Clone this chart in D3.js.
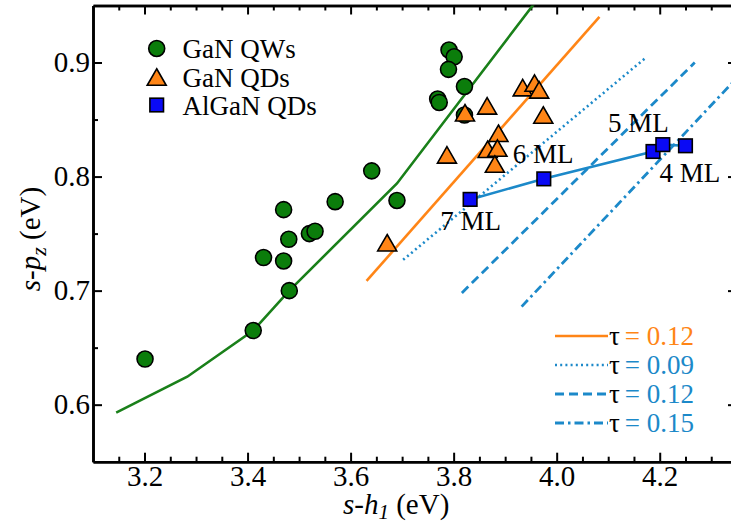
<!DOCTYPE html>
<html>
<head>
<meta charset="utf-8">
<script src="https://cdn.jsdelivr.net/npm/d3@7"></script>
<style>
  html, body { margin: 0; padding: 0; background: #fff; }
  svg { display: block; font-family: "Liberation Serif", "Times New Roman", serif; }
</style>
</head>
<body>
<svg id="chart" width="731" height="526"></svg>
<script>
// ---- data ----
const qwX = [3.201, 3.411, 3.431, 3.470, 3.470, 3.480, 3.481, 3.520, 3.531, 3.570, 3.641, 3.690, 3.769, 3.772, 3.791, 3.801, 3.790, 3.821, 3.821];
const qwY = [0.640, 0.665, 0.729, 0.726, 0.771, 0.745, 0.700, 0.750, 0.752, 0.778, 0.805, 0.779, 0.868, 0.865, 0.911, 0.905, 0.894, 0.879, 0.854];

const qdX = [3.671, 3.787, 3.822, 3.865, 3.887, 3.866, 3.885, 3.880, 3.934, 3.957, 3.966, 3.974];
const qdY = [0.742, 0.819, 0.856, 0.862, 0.838, 0.824, 0.825, 0.811, 0.878, 0.882, 0.876, 0.854];

const alX = [3.832, 3.975, 4.187, 4.206, 4.250];
const alY = [0.780, 0.798, 0.822, 0.828, 0.827];

const mlLabels = ["7 ML", "6 ML", "5 ML", "4 ML"];

const greenLineX = [3.145, 3.283, 3.411, 3.481, 3.690, 3.962];
const greenLineY = [0.593, 0.6245, 0.665, 0.700, 0.794, 0.955];

const tauOrangeX = [3.631, 4.083];
const tauOrangeY = [0.7085, 0.940];
const tau09X = [3.702, 4.175];
const tau09Y = [0.727, 0.905];
const tau12X = [3.816, 4.268];
const tau12Y = [0.698, 0.900];
const tau15X = [3.932, 4.378];
const tau15Y = [0.686, 0.900];

const tauLegend = ["0.12", "0.09", "0.12", "0.15"];
const legendNames = ["GaN QWs", "GaN QDs", "AlGaN QDs"];

const xMajor = [3.2, 3.4, 3.6, 3.8, 4.0, 4.2];
const xMinor = [3.15, 3.25, 3.3, 3.35, 3.45, 3.5, 3.55, 3.65, 3.7, 3.75, 3.85, 3.9, 3.95, 4.05, 4.1, 4.15, 4.25, 4.3];
const yMajor = [0.6, 0.7, 0.8, 0.9];
const yMinor = [0.65, 0.75, 0.85];

// ---- styles ----
const GREEN = "#0b7d0b", GREEN_LINE = "#1a801a", ORANGE = "#ff8516", BLUE_SQ = "#0a0af5", BLUE_LINE = "#1c89c9";

const svg = d3.select("#chart");
const x = d3.scaleLinear().domain([3.1, 4.35]).range([93, 737]);
const y = d3.scaleLinear().domain([0.55, 0.95]).range([461.7, 5.5]);

// clip
svg.append("defs").append("clipPath").attr("id", "clip")
  .append("rect").attr("x", 93).attr("y", 5.5).attr("width", 644).attr("height", 456.2);

// axes
function styleAxis(g) {
  g.selectAll("path.domain").attr("stroke", "#000").attr("stroke-width", 2.6);
  g.selectAll(".tick line").attr("stroke", "#000").attr("stroke-width", 2);
  g.selectAll(".tick text").attr("font-size", 29).attr("fill", "#000")
    .attr("font-family", '"Liberation Serif", "Times New Roman", serif');
}
const fmtX = d3.format(".1f");
const fmtY = d3.format(".1f");

// bottom
svg.append("g").attr("transform", `translate(0,${y.range()[0]})`)
  .call(d3.axisBottom(x).tickValues(xMinor).tickSize(-5).tickSizeOuter(0).tickFormat(""))
  .call(styleAxis);
svg.append("g").attr("transform", `translate(0,${y.range()[0]})`)
  .call(d3.axisBottom(x).tickValues(xMajor).tickSize(-9).tickSizeOuter(0).tickPadding(4).tickFormat(fmtX))
  .call(styleAxis);
// top
svg.append("g").attr("transform", `translate(0,${y.range()[1]})`)
  .call(d3.axisTop(x).tickValues(xMinor).tickSize(-5).tickSizeOuter(0).tickFormat(""))
  .call(styleAxis);
svg.append("g").attr("transform", `translate(0,${y.range()[1]})`)
  .call(d3.axisTop(x).tickValues(xMajor).tickSize(-9).tickSizeOuter(0).tickFormat(""))
  .call(styleAxis);
// left
svg.append("g").attr("transform", `translate(${x.range()[0]},0)`)
  .call(d3.axisLeft(y).tickValues(yMinor).tickSize(-5).tickSizeOuter(0).tickFormat(""))
  .call(styleAxis);
svg.append("g").attr("transform", `translate(${x.range()[0]},0)`)
  .call(d3.axisLeft(y).tickValues(yMajor).tickSize(-9).tickSizeOuter(0).tickPadding(3).tickFormat(fmtY))
  .call(styleAxis);
// right
svg.append("g").attr("transform", `translate(${x.range()[1]},0)`)
  .call(d3.axisRight(y).tickValues(yMinor).tickSize(-5).tickSizeOuter(0).tickFormat(""))
  .call(styleAxis);
svg.append("g").attr("transform", `translate(${x.range()[1]},0)`)
  .call(d3.axisRight(y).tickValues(yMajor).tickSize(-9).tickSizeOuter(0).tickFormat(""))
  .call(styleAxis);

// axis titles
const xt = svg.append("text").attr("x", 343).attr("y", 514).attr("font-size", 29).attr("fill", "#000");
xt.append("tspan").attr("font-style", "italic").text("s-h");
xt.append("tspan").attr("font-style", "italic").attr("font-size", 21).attr("dy", 5).text("1");
xt.append("tspan").attr("dy", -5).text(" (eV)");

const yt = svg.append("text").attr("transform", "translate(40,239) rotate(-90)")
  .attr("text-anchor", "middle").attr("font-size", 29).attr("fill", "#000");
yt.append("tspan").attr("font-style", "italic").text("s-p");
yt.append("tspan").attr("font-style", "italic").attr("font-size", 22).attr("dy", 6).text("z");
yt.append("tspan").attr("dy", -6).text(" (eV)");

// lines
const plot = svg.append("g").attr("clip-path", "url(#clip)");
const line = d3.line().x(d => x(d[0])).y(d => y(d[1]));
const zip = (a, b) => a.map((v, i) => [v, b[i]]);

plot.append("path").attr("d", line(zip(greenLineX, greenLineY)))
  .attr("fill", "none").attr("stroke", GREEN_LINE).attr("stroke-width", 2.6);
plot.append("path").attr("d", line(zip(tauOrangeX, tauOrangeY)))
  .attr("fill", "none").attr("stroke", ORANGE).attr("stroke-width", 2.6);
plot.append("path").attr("d", line(zip(tau09X, tau09Y)))
  .attr("fill", "none").attr("stroke", BLUE_LINE).attr("stroke-width", 2.6).attr("stroke-dasharray", "2,3.2");
plot.append("path").attr("d", line(zip(tau12X, tau12Y)))
  .attr("fill", "none").attr("stroke", BLUE_LINE).attr("stroke-width", 2.8).attr("stroke-dasharray", "9,5");
plot.append("path").attr("d", line(zip(tau15X, tau15Y)))
  .attr("fill", "none").attr("stroke", BLUE_LINE).attr("stroke-width", 2.8).attr("stroke-dasharray", "9,4,2.5,4");

// AlGaN connecting line
plot.append("path").attr("d", line(zip(alX, alY)))
  .attr("fill", "none").attr("stroke", BLUE_LINE).attr("stroke-width", 2.6);

// markers
const triPath = (s) => {
  const h = s * Math.sqrt(3) / 2;
  return `M0,${-h/2}L${s/2},${h/2}L${-s/2},${h/2}Z`;
};
plot.append("g").selectAll("circle").data(zip(qwX, qwY)).join("circle")
  .attr("cx", d => x(d[0])).attr("cy", d => y(d[1])).attr("r", 8)
  .attr("fill", GREEN).attr("stroke", "#000").attr("stroke-width", 1.6);
plot.append("g").selectAll("path").data(zip(qdX, qdY)).join("path")
  .attr("d", triPath(19)).attr("transform", d => `translate(${x(d[0])},${y(d[1])})`)
  .attr("fill", ORANGE).attr("stroke", "#000").attr("stroke-width", 1.6).attr("stroke-linejoin", "miter");
plot.append("g").selectAll("rect").data(zip(alX, alY)).join("rect")
  .attr("x", d => x(d[0]) - 6.8).attr("y", d => y(d[1]) - 6.8).attr("width", 13.6).attr("height", 13.6)
  .attr("fill", BLUE_SQ).attr("stroke", "#000").attr("stroke-width", 1.6);

// ML labels
const mlPos = [[alX[0], alY[0], -30, 31], [alX[1], alY[1], -31, -16], [alX[2], alY[2], -45, -19], [alX[4], alY[4], -26, 36]];
svg.append("g").selectAll("text").data(mlLabels).join("text")
  .attr("x", (d, i) => x(mlPos[i][0]) + mlPos[i][2])
  .attr("y", (d, i) => y(mlPos[i][1]) + mlPos[i][3])
  .attr("font-size", 27).attr("fill", "#000").text(d => d);

// legend (top-left)
const lg = svg.append("g");
const legRows = [48.5, 77, 105];
lg.append("circle").attr("cx", 156.7).attr("cy", legRows[0]).attr("r", 8)
  .attr("fill", GREEN).attr("stroke", "#000").attr("stroke-width", 1.6);
lg.append("path").attr("d", triPath(19)).attr("transform", `translate(156.7,${legRows[1]})`)
  .attr("fill", ORANGE).attr("stroke", "#000").attr("stroke-width", 1.6);
lg.append("rect").attr("x", 156.7 - 6.8).attr("y", legRows[2] - 6.8).attr("width", 13.6).attr("height", 13.6)
  .attr("fill", BLUE_SQ).attr("stroke", "#000").attr("stroke-width", 1.6);
lg.selectAll("text").data(legendNames).join("text")
  .attr("x", 182.5).attr("y", (d, i) => legRows[i] + 9.5)
  .attr("font-size", 27).attr("fill", "#000").text(d => d);

// legend (bottom-right)
const tauRows = [336, 365, 394, 423];
const tauStyles = [
  { c: ORANGE, dash: null, w: 2.6 },
  { c: BLUE_LINE, dash: "2,3.2", w: 2.6 },
  { c: BLUE_LINE, dash: "9,5", w: 2.8 },
  { c: BLUE_LINE, dash: "9,4,2.5,4", w: 2.8 }
];
const tg = svg.append("g");
tauStyles.forEach((s, i) => {
  const l = tg.append("line").attr("x1", 555).attr("x2", 608).attr("y1", tauRows[i]).attr("y2", tauRows[i])
    .attr("stroke", s.c).attr("stroke-width", s.w);
  if (s.dash) l.attr("stroke-dasharray", s.dash);
  const t = tg.append("text").attr("x", 609).attr("y", tauRows[i] + 9).attr("font-size", 27);
  t.append("tspan").attr("fill", "#000").text("τ");
  t.append("tspan").attr("fill", s.c).attr("dx", 5).text("= " + tauLegend[i]);
});
</script>
</body>
</html>
